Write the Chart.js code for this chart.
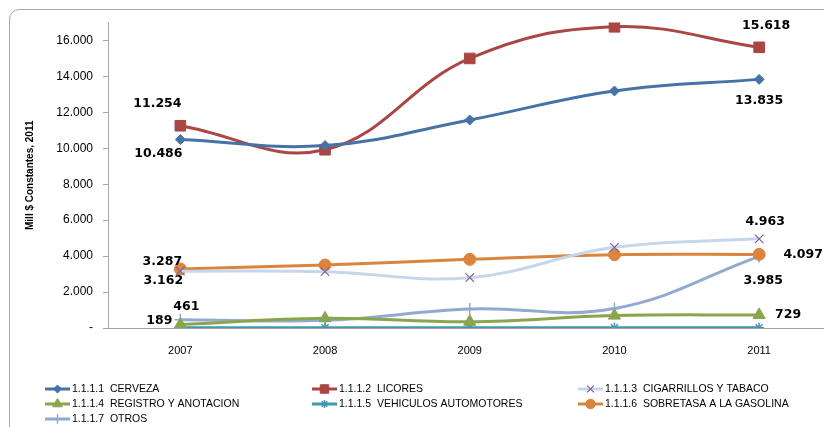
<!DOCTYPE html>
<html>
<head>
<meta charset="utf-8">
<script src="https://cdn.jsdelivr.net/npm/chart.js@4.4.0/dist/chart.umd.min.js"></script>
<style>
  html, body { margin: 0; padding: 0; background: #fff; overflow: hidden; }
  #wrap { position: relative; width: 824px; height: 427px; overflow: hidden; }
  #frame { position: absolute; left: 9px; top: 9px; width: 900px; height: 500px;
           border: 1px solid #a6a6a6; border-radius: 10px; }
  #c { position: absolute; left: 0; top: 0; }
</style>
</head>
<body>
<div id="wrap">
  <div id="frame"></div>
  <canvas id="c" width="840" height="427"></canvas>
</div>
<script>
// Datos (Mill $ constantes 2011)
const anios = ['2007', '2008', '2009', '2010', '2011'];
const cerveza = [10486, 10150, 11575, 13190, 13835];
const licores = [11254, 9920, 15000, 16760, 15618];
const cigarrillos = [3162, 3135, 2800, 4490, 4963];
const registro = [189, 540, 350, 690, 729];
const vehiculos = [15, 15, 15, 15, 15];
const sobretasa = [3287, 3505, 3820, 4080, 4097];
const otros = [461, 430, 1055, 1085, 3985];
const yTicks = [0, 2000, 4000, 6000, 8000, 10000, 12000, 14000, 16000];

// etiquetas de datos: serie, índice, desplazamiento
const etiquetas = [
  { ds: 1, i: 0, dx: -23, dy: -22 },
  { ds: 0, i: 0, dx: -22, dy: 14 },
  { ds: 1, i: 4, dx: 7, dy: -22 },
  { ds: 0, i: 4, dx: 0, dy: 21 },
  { ds: 2, i: 4, dx: 6, dy: -17 },
  { ds: 5, i: 4, dx: 44, dy: 0 },
  { ds: 6, i: 4, dx: 4, dy: 24 },
  { ds: 3, i: 4, dx: 29, dy: 0 },
  { ds: 5, i: 0, dx: -18, dy: -7 },
  { ds: 2, i: 0, dx: -17, dy: 10 },
  { ds: 6, i: 0, dx: 6, dy: -13 },
  { ds: 3, i: 0, dx: -21, dy: -4 }
];

function fmt(v) {
  return v === 0 ? '-' : v.toString().replace(/\B(?=(\d{3})+(?!\d))/g, '.');
}

function serie(label, data, color, marker, markerColor, radius) {
  return {
    label: label,
    data: data,
    borderColor: color,
    backgroundColor: markerColor || color,
    pointBackgroundColor: markerColor || color,
    pointBorderColor: markerColor || color,
    pointStyle: marker,
    pointRadius: radius,
    pointBorderWidth: 1,
    borderWidth: 3,
    tension: 0.4,
    fill: false
  };
}

const datasets = [
  serie('1.1.1.1  CERVEZA', cerveza, '#4572A7', 'rectRot', null, 5),
  serie('1.1.1.2  LICORES', licores, '#AA4643', 'rect', null, 7.5),
  serie('1.1.1.3  CIGARRILLOS Y TABACO', cigarrillos, '#C6D7EC', 'crossRot', '#7D60A0', 6),
  serie('1.1.1.4  REGISTRO Y ANOTACION', registro, '#89A54E', 'triangle', null, 7),
  serie('1.1.1.5  VEHICULOS AUTOMOTORES', vehiculos, '#4198AF', 'star', null, 5),
  serie('1.1.1.6  SOBRETASA A LA GASOLINA', sobretasa, '#DB843D', 'circle', null, 6),
  serie('1.1.1.7  OTROS', otros, '#93A9CF', 'cross', null, 6)
];
// puntos más gruesos para que se vean como en el original
datasets[2].pointBorderWidth = 1.2;
datasets[4].pointBorderWidth = 1.5;
datasets[6].pointBorderWidth = 1.5;

const pluginEtiquetas = {
  id: 'etiquetas',
  afterDatasetsDraw(chart) {
    const ctx = chart.ctx;
    ctx.save();
    ctx.font = 'bold 12.5px "DejaVu Sans"';
    ctx.fillStyle = '#000';
    ctx.textAlign = 'center';
    ctx.textBaseline = 'middle';
    etiquetas.forEach(function (e) {
      const p = chart.getDatasetMeta(e.ds).data[e.i];
      const v = chart.data.datasets[e.ds].data[e.i];
      ctx.fillText(fmt(v), p.x + e.dx, p.y + e.dy);
    });
    ctx.restore();
  }
};

const pluginLeyenda = {
  id: 'leyenda',
  afterDraw(chart) {
    const ctx = chart.ctx;
    const cols = [45, 312, 578];
    const rows = [389, 404, 419];
    ctx.save();
    chart.data.datasets.forEach(function (ds, k) {
      const x = cols[k % 3];
      const y = rows[Math.floor(k / 3)];
      ctx.strokeStyle = ds.borderColor;
      ctx.lineWidth = 3;
      ctx.beginPath();
      ctx.moveTo(x, y);
      ctx.lineTo(x + 25, y);
      ctx.stroke();
      ctx.fillStyle = ds.pointBackgroundColor;
      ctx.strokeStyle = ds.pointBorderColor;
      ctx.lineWidth = ds.pointBorderWidth;
      Chart.helpers.drawPoint(ctx, { pointStyle: ds.pointStyle, radius: ds.pointRadius * 0.8, rotation: 0, borderWidth: ds.pointBorderWidth }, x + 12.5, y);
      ctx.fillStyle = '#000';
      ctx.font = '10.5px "Liberation Sans"';
      ctx.textAlign = 'left';
      ctx.textBaseline = 'middle';
      ctx.fillText(ds.label, x + 27, y);
    });
    ctx.restore();
  }
};

new Chart(document.getElementById('c'), {
  type: 'line',
  data: { labels: anios, datasets: datasets },
  options: {
    responsive: false,
    animation: false,
    events: [],
    layout: { padding: { top: 22.5, right: 5.5, bottom: 0, left: 0 } },
    plugins: {
      legend: { display: false },
      tooltip: { enabled: false }
    },
    scales: {
      x: {
        offset: true,
        grid: { display: false },
        border: { display: true, color: '#a6a6a6', width: 1 },
        ticks: { color: '#000', font: { family: 'Liberation Sans', size: 11 }, padding: 8, maxRotation: 0 },
        afterFit: function (s) { s.height = 99; }
      },
      y: {
        min: 0,
        max: 17000,
        border: { display: true, color: '#a6a6a6', width: 1 },
        grid: { drawOnChartArea: false, drawTicks: true, tickLength: 5, color: '#a6a6a6' },
        afterBuildTicks: function (s) { s.ticks = yTicks.map(function (v) { return { value: v }; }); },
        ticks: {
          color: '#000',
          font: { family: 'Liberation Sans', size: 12 },
          padding: 10,
          callback: function (v) { return fmt(v); }
        },
        title: {
          display: true,
          text: 'Mill $ Constantes, 2011',
          color: '#000',
          font: { family: 'Liberation Sans', size: 10, weight: 'bold' },
          padding: { top: 24, bottom: 0 }
        },
        afterFit: function (s) { s.width = 108; }
      }
    }
  },
  plugins: [pluginEtiquetas, pluginLeyenda]
});
</script>
</body>
</html>
